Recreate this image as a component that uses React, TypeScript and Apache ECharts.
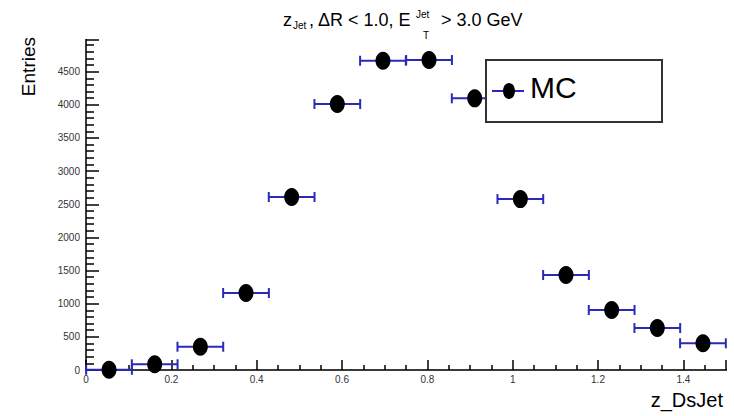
import React, { useEffect, useRef } from "react";
import * as echarts from "echarts";

const binCenters = [0.054, 0.161, 0.268, 0.375, 0.482, 0.589, 0.696, 0.804, 0.911, 1.018, 1.125, 1.232, 1.339, 1.446];
const entries = [3, 86, 351, 1161, 2610, 4012, 4665, 4676, 4098, 2578, 1433, 905, 633, 403];
const binHalfWidth = 0.0536;
const xMin = 0;
const xMax = 1.5;
const yMax = 4978;
const seriesName = "MC";

const FONT = "Liberation Sans, Arial, Helvetica, sans-serif";
const BLUE = "#2a2ab8";

export default function App() {
  const ref = useRef<HTMLDivElement>(null);
  useEffect(() => {
    if (!ref.current) return;
    const chart = echarts.init(ref.current, null, { renderer: "svg" });
    const errData = binCenters.map((c, i) => [c - binHalfWidth, Math.min(c + binHalfWidth, xMax), entries[i]]);
    const pts = binCenters.map((c, i) => [c, entries[i]]);
    const frameAxis = {
      axisLine: { show: true, lineStyle: { color: "#3a3a3a", width: 2 } },
      axisTick: { show: false },
      axisLabel: { show: false },
      splitLine: { show: false },
    };
    const txt = (text: string, x: number, y: number, fontSize: number, extra: any = {}) => ({
      type: "text",
      x,
      y,
      silent: true,
      z: 20,
      ...extra,
      style: { text, fontSize, fontFamily: FONT, fill: "#000000", verticalAlign: "middle", align: "left", ...(extra.style || {}) },
    });
    chart.setOption({
      animation: false,
      backgroundColor: "#ffffff",
      textStyle: { fontFamily: FONT },
      grid: { left: 86, top: 40, right: 8, bottom: 46 },
      xAxis: [
        {
          type: "value",
          min: xMin,
          max: xMax,
          interval: 0.2,
          axisLine: { show: true, onZero: false, lineStyle: { color: "#000", width: 2 } },
          axisTick: { show: true, inside: true, length: 10, lineStyle: { color: "#000", width: 1.5 } },
          minorTick: { show: true, splitNumber: 4, length: 5, lineStyle: { color: "#000", width: 1.5 } },
          splitLine: { show: false },
          axisLabel: { color: "#333", fontSize: 10, margin: 4, fontFamily: FONT, showMaxLabel: false, formatter: (v: number) => String(Math.round(v * 10) / 10) },
        },
        { type: "value", position: "top", min: xMin, max: xMax, ...frameAxis },
      ],
      yAxis: [
        {
          type: "value",
          min: 0,
          max: yMax,
          interval: 500,
          axisLine: { show: true, onZero: false, lineStyle: { color: "#000", width: 2 } },
          axisTick: { show: true, inside: true, length: 13, lineStyle: { color: "#000", width: 1.5 } },
          minorTick: { show: true, splitNumber: 5, length: 8, lineStyle: { color: "#000", width: 1.5 } },
          splitLine: { show: false },
          axisLabel: { color: "#333", fontSize: 10, margin: 6, fontFamily: FONT, showMaxLabel: false, formatter: (v: number) => String(v) },
        },
        { type: "value", position: "right", min: 0, max: yMax, ...frameAxis },
      ],
      series: [
        {
          type: "custom",
          name: seriesName + " errors",
          data: errData,
          z: 2,
          renderItem: (params: any, api: any) => {
            const y = api.value(2);
            const p0 = api.coord([api.value(0), y]);
            const p1 = api.coord([api.value(1), y]);
            const st = { stroke: BLUE, lineWidth: 2 };
            return {
              type: "group",
              children: [
                { type: "line", shape: { x1: p0[0], y1: p0[1], x2: p1[0], y2: p1[1] }, style: st },
                { type: "line", shape: { x1: p0[0], y1: p0[1] - 5, x2: p0[0], y2: p0[1] + 5 }, style: st },
                { type: "line", shape: { x1: p1[0], y1: p1[1] - 5, x2: p1[0], y2: p1[1] + 5 }, style: st },
              ],
            };
          },
        },
        {
          type: "scatter",
          name: seriesName,
          data: pts,
          symbol: "circle",
          symbolSize: [15, 18],
          itemStyle: { color: "#000", opacity: 1 },
          z: 3,
        },
      ],
      graphic: [
        txt("z", 283, 20, 18),
        txt("Jet", 293, 25, 10),
        txt(", ΔR < 1.0, E", 309, 20, 18),
        txt("Jet", 416, 14, 10),
        txt("T", 423, 35, 10),
        txt(" > 3.0 GeV", 436, 20, 18),
        txt("Entries", 28, 37, 19, { rotation: Math.PI / 2, style: { align: "right" } }),
        txt("z_DsJet", 723, 400, 20, { style: { align: "right" } }),
        { type: "rect", shape: { x: 486, y: 60, width: 176, height: 62 }, style: { fill: "#fff", stroke: "#333", lineWidth: 2 }, z: 10 },
        { type: "line", shape: { x1: 492, y1: 91, x2: 524, y2: 91 }, style: { stroke: BLUE, lineWidth: 2 }, z: 11 },
        { type: "ellipse", shape: { cx: 509, cy: 91, rx: 6, ry: 8 }, style: { fill: "#000" }, z: 12 },
        txt(seriesName, 530, 87, 30),
      ],
    });
    return () => chart.dispose();
  }, []);
  return <div ref={ref} style={{ position: "fixed", left: 0, top: 0, width: 734, height: 416 }} />;
}
